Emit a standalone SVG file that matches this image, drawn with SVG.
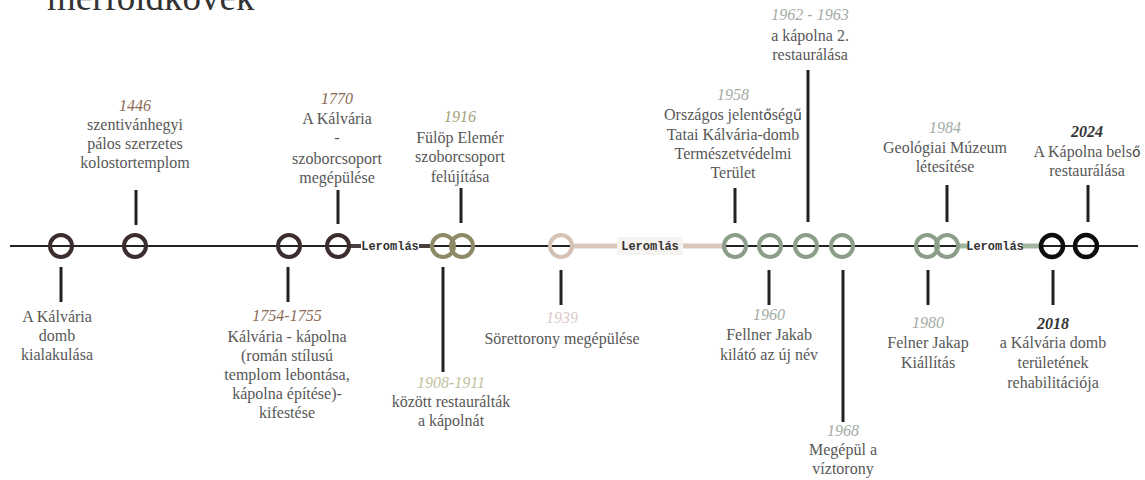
<svg xmlns="http://www.w3.org/2000/svg" width="1145" height="480" viewBox="0 0 1145 480">
<style>
.t{font-family:"Liberation Serif",serif;font-size:16px;fill:#575757;text-anchor:middle}
.y{font-family:"Liberation Serif",serif;font-style:italic;font-size:16px;text-anchor:middle}
.f{font-family:"DejaVu Sans",sans-serif;font-size:14px;fill:#444}
.tick{stroke:#222;stroke-width:3}
.c{fill:none;stroke-width:4}
.dk{stroke:#3b2d2d}.ol{stroke:#8e8a67}.be{stroke:#d5c2b4}.gr{stroke:#8c9e8a}.bl{stroke:#0d0d0d;stroke-width:4.5}
.lm{font-family:"Liberation Mono",monospace;font-weight:bold;font-size:12px;fill:#333;text-anchor:middle}
</style>
<text x="47" y="10" font-family="Liberation Serif,serif" font-size="37" fill="#333">mérföldkövek</text>
<g id="connectors">
<line x1="10" y1="246" x2="1138" y2="246" stroke="#222" stroke-width="2"/>
<line x1="350" y1="246" x2="430" y2="246" stroke="#4a4040" stroke-width="4"/>
<rect x="361" y="238" width="58" height="16" fill="#fff"/>
<text class="lm" x="390" y="250">Leromlás</text>
<line x1="574" y1="246" x2="723" y2="246" stroke="#d8c7ba" stroke-width="5"/>
<rect x="617" y="237" width="66" height="18" fill="#f6f3f1"/>
<text class="lm" x="650" y="250">Leromlás</text>
<line x1="959" y1="246" x2="1040" y2="246" stroke="#a2b79f" stroke-width="5"/>
<rect x="968" y="238" width="54" height="16" fill="#fff"/>
<text class="lm" x="995" y="250">Leromlás</text>
</g>
<g id="n-kialakulas">
<circle class="c dk" cx="61" cy="246" r="11"/>
<line class="tick" x1="61" y1="267" x2="61" y2="302"/>
<text class="t" x="57" y="322">A Kálvária</text>
<text class="t" x="57" y="341">domb</text>
<text class="t" x="57" y="360">kialakulása</text>
</g>
<g id="n-1446">
<circle class="c dk" cx="135" cy="246" r="11"/>
<line class="tick" x1="136" y1="190" x2="136" y2="225"/>
<text class="y" x="135" y="111" fill="#8b6a55">1446</text>
<text class="t" x="135" y="130">szentivánhegyi</text>
<text class="t" x="135" y="149">pálos szerzetes</text>
<text class="t" x="135" y="168">kolostortemplom</text>
</g>
<g id="n-1754">
<circle class="c dk" cx="289" cy="246" r="11"/>
<line class="tick" x1="288" y1="267" x2="288" y2="302"/>
<text class="y" x="287" y="321" fill="#8b6a55">1754-1755</text>
<text class="t" x="287" y="342">Kálvária - kápolna</text>
<text class="t" x="287" y="361">(román stílusú</text>
<text class="t" x="287" y="380">templom lebontása,</text>
<text class="t" x="287" y="399">kápolna építése)-</text>
<text class="t" x="287" y="418">kifestése</text>
</g>
<g id="n-1770">
<circle class="c dk" cx="338" cy="246" r="11"/>
<line class="tick" x1="338" y1="190" x2="338" y2="224"/>
<text class="y" x="337" y="104" fill="#8b6a55">1770</text>
<text class="t" x="337" y="124">A Kálvária</text>
<text class="t" x="337" y="143">-</text>
<text class="t" x="337" y="164">szoborcsoport</text>
<text class="t" x="337" y="183">megépülése</text>
</g>
<g id="n-1908">
<circle class="c ol" cx="443" cy="246" r="11"/>
<line class="tick" x1="443" y1="267" x2="443" y2="372"/>
<text class="y" x="451" y="388" fill="#c2bf9d">1908-1911</text>
<text class="t" x="451" y="407">között restaurálták</text>
<text class="t" x="451" y="426">a kápolnát</text>
</g>
<g id="n-1916">
<circle class="c ol" cx="462" cy="246" r="11"/>
<line class="tick" x1="461" y1="188" x2="461" y2="223"/>
<text class="y" x="460" y="122" fill="#a5a17a">1916</text>
<text class="t" x="460" y="143">Fülöp Elemér</text>
<text class="t" x="460" y="162">szoborcsoport</text>
<text class="t" x="460" y="182">felújítása</text>
</g>
<g id="n-1939">
<circle class="c be" cx="561" cy="246" r="11"/>
<line class="tick" x1="561" y1="270" x2="561" y2="305"/>
<text class="y" x="562" y="323" fill="#dccaca">1939</text>
<text class="t" x="562" y="344">Sörettorony megépülése</text>
</g>
<g id="n-1958">
<circle class="c gr" cx="735" cy="246" r="11"/>
<line class="tick" x1="735" y1="188" x2="735" y2="223"/>
<text class="y" x="733" y="100" fill="#a3aca3">1958</text>
<text class="t" x="733" y="120">Országos jelent<tspan class="f">ő</tspan>ség<tspan class="f">ű</tspan></text>
<text class="t" x="733" y="140">Tatai Kálvária-domb</text>
<text class="t" x="733" y="159">Természetvédelmi</text>
<text class="t" x="733" y="178">Terület</text>
</g>
<g id="n-1960">
<circle class="c gr" cx="770" cy="246" r="11"/>
<line class="tick" x1="769" y1="270" x2="769" y2="305"/>
<text class="y" x="769" y="320" fill="#a3aca3">1960</text>
<text class="t" x="769" y="340">Fellner Jakab</text>
<text class="t" x="769" y="360">kilátó az új név</text>
</g>
<g id="n-1962">
<circle class="c gr" cx="806" cy="246" r="11"/>
<line class="tick" x1="808" y1="70" x2="808" y2="222"/>
<text class="y" x="810" y="20" fill="#a3aca3">1962 - 1963</text>
<text class="t" x="810" y="41">a kápolna 2.</text>
<text class="t" x="810" y="60">restaurálása</text>
</g>
<g id="n-1968">
<circle class="c gr" cx="842" cy="246" r="11"/>
<line class="tick" x1="843" y1="270" x2="843" y2="422"/>
<text class="y" x="843" y="436" fill="#a3aca3">1968</text>
<text class="t" x="843" y="455">Megépül a</text>
<text class="t" x="843" y="474">víztorony</text>
</g>
<g id="n-1980">
<circle class="c gr" cx="927" cy="246" r="11"/>
<line class="tick" x1="928" y1="270" x2="928" y2="305"/>
<text class="y" x="928" y="328" fill="#a3aca3">1980</text>
<text class="t" x="928" y="348">Felner Jakap</text>
<text class="t" x="928" y="368">Kiállítás</text>
</g>
<g id="n-1984">
<circle class="c gr" cx="947" cy="246" r="11"/>
<line class="tick" x1="947" y1="185" x2="947" y2="222"/>
<text class="y" x="945" y="133" fill="#a3aca3">1984</text>
<text class="t" x="945" y="153">Geológiai Múzeum</text>
<text class="t" x="945" y="172">létesítése</text>
</g>
<g id="n-2018">
<circle class="c bl" cx="1052" cy="246" r="11"/>
<line class="tick" x1="1053" y1="270" x2="1053" y2="305"/>
<text class="y" x="1053" y="329" fill="#333" font-weight="bold">2018</text>
<text class="t" x="1053" y="348">a Kálvária domb</text>
<text class="t" x="1053" y="368">területének</text>
<text class="t" x="1053" y="388">rehabilitációja</text>
</g>
<g id="n-2024">
<circle class="c bl" cx="1086" cy="246" r="11"/>
<line class="tick" x1="1088" y1="185" x2="1088" y2="222"/>
<text class="y" x="1087" y="137" fill="#333" font-weight="bold">2024</text>
<text class="t" x="1087" y="157">A Kápolna bels<tspan class="f">ő</tspan></text>
<text class="t" x="1087" y="176">restaurálása</text>
</g>
</svg>
